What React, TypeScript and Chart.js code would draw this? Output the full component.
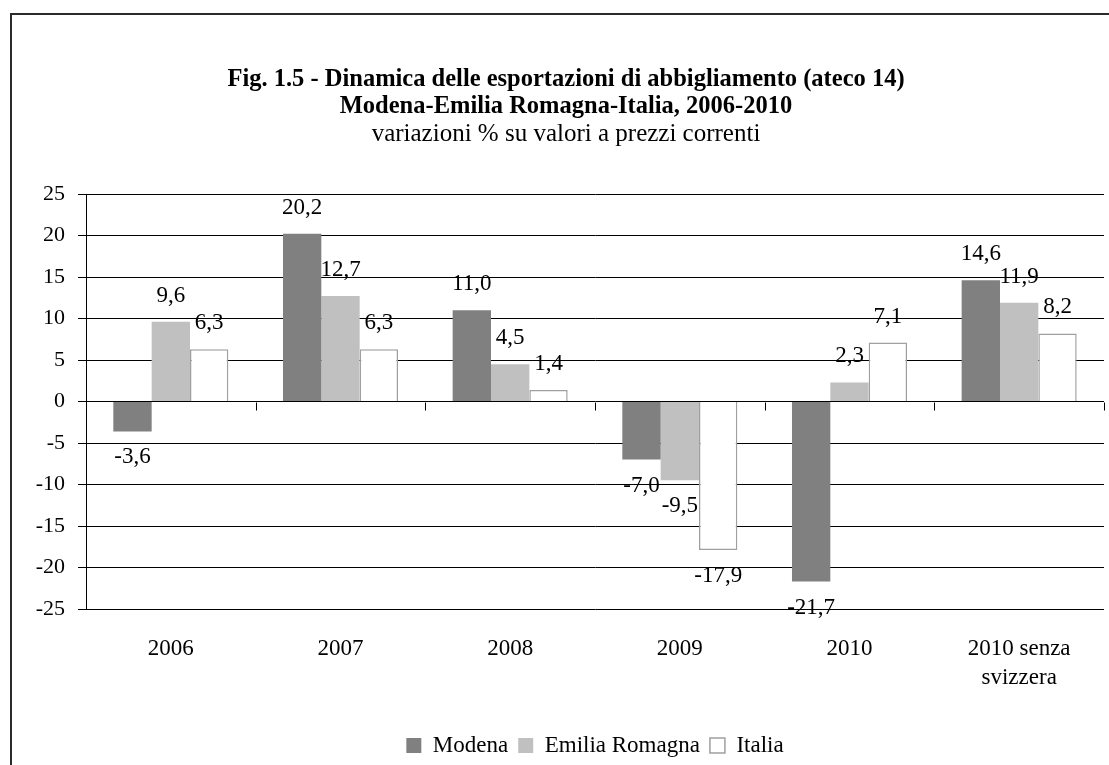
import React, { useEffect, useRef } from 'react';
import { Chart, registerables } from 'chart.js';

Chart.register(...registerables);

const categories: (string | string[])[] = ['2006', '2007', '2008', '2009', '2010', ['2010 senza', 'svizzera']];
const modena = [-3.6, 20.2, 11.0, -7.0, -21.7, 14.6];
const emiliaRomagna = [9.6, 12.7, 4.5, -9.5, 2.3, 11.9];
const italia = [6.3, 6.3, 1.4, -17.9, 7.1, 8.2];
const seriesNames = ['Modena', 'Emilia Romagna', 'Italia'];
const yMin = -25;
const yMax = 25;
const yStep = 5;
const titleLines = [
  'Fig. 1.5 - Dinamica delle esportazioni di abbigliamento (ateco 14)',
  'Modena-Emilia Romagna-Italia, 2006-2010',
];
const subtitleText = 'variazioni % su valori a prezzi correnti';

const FONT = "'Liberation Serif', 'Times New Roman', serif";

const fmt = (v: number) => v.toFixed(1).replace('.', ',');

const framePlugin = {
  id: 'frame',
  beforeDraw(chart: any) {
    const ctx = chart.ctx;
    ctx.save();
    ctx.fillStyle = '#ffffff';
    ctx.fillRect(0, 0, chart.width, chart.height);
    ctx.strokeStyle = '#2b2b2b';
    ctx.lineWidth = 2;
    ctx.beginPath();
    ctx.moveTo(11, chart.height + 5);
    ctx.lineTo(11, 14);
    ctx.lineTo(chart.width + 5, 14);
    ctx.stroke();
    ctx.restore();
  },
  afterDraw(chart: any) {
    const ctx = chart.ctx;
    const xs = chart.scales.x;
    const ys = chart.scales.y;
    const y0 = Math.round(ys.getPixelForValue(0)) + 0.5;
    const n = chart.data.labels.length;
    const step = (xs.right - xs.left) / n;
    ctx.save();
    ctx.strokeStyle = '#000';
    ctx.lineWidth = 1;
    ctx.beginPath();
    for (let i = 0; i <= n; i++) {
      const x = Math.round(xs.left + i * step) + 0.5;
      ctx.moveTo(x, y0);
      ctx.lineTo(x, y0 + 8);
    }
    ctx.stroke();
    ctx.restore();
  },
};

const valueLabelPlugin = {
  id: 'valueLabels',
  afterDatasetsDraw(chart: any) {
    const ctx = chart.ctx;
    ctx.save();
    ctx.font = `23px ${FONT}`;
    ctx.fillStyle = '#000';
    ctx.textAlign = 'center';
    ctx.textBaseline = 'middle';
    chart.data.datasets.forEach((ds: any, di: number) => {
      const meta = chart.getDatasetMeta(di);
      meta.data.forEach((el: any, i: number) => {
        const v = ds.data[i];
        const y = v >= 0 ? el.y - 26 : el.y + 26;
        ctx.fillText(fmt(v), el.x, y);
      });
    });
    ctx.restore();
  },
};

export default function App() {
  const ref = useRef<HTMLCanvasElement>(null);
  useEffect(() => {
    if (!ref.current) return;
    const chart = new Chart(ref.current, {
      type: 'bar',
      data: {
        labels: categories,
        datasets: [
          { label: seriesNames[0], data: modena, backgroundColor: '#808080', borderWidth: 0 },
          { label: seriesNames[1], data: emiliaRomagna, backgroundColor: '#c0c0c0', borderWidth: 0 },
          { label: seriesNames[2], data: italia, backgroundColor: '#ffffff', borderColor: '#a0a0a0', borderWidth: 1.5 },
        ],
      },
      options: {
        responsive: false,
        animation: false,
        layout: { padding: { left: 28, right: 5, top: 0, bottom: 1 } },
        datasets: { bar: { barPercentage: 1, categoryPercentage: 0.678 } },
        plugins: {
          tooltip: { enabled: false },
          title: {
            display: true,
            text: titleLines,
            color: '#000',
            font: { family: FONT, size: 24.5, weight: 'bold', lineHeight: 27 / 24.5 },
            padding: { top: 66.5, bottom: 0 },
          },
          subtitle: {
            display: true,
            text: subtitleText,
            color: '#000',
            font: { family: FONT, size: 25, weight: 'normal', lineHeight: 27 / 25 },
            padding: { top: 0, bottom: 46.5 },
          },
          legend: {
            position: 'bottom',
            fullSize: false,
            maxHeight: 40,
            labels: {
              color: '#000',
              font: { family: FONT, size: 23 },
              boxWidth: 15,
              boxHeight: 15,
              padding: 10,
            },
          },
        },
        scales: {
          x: {
            grid: { display: false, drawTicks: false },
            border: { display: false },
            ticks: { color: '#000', font: { family: FONT, size: 23, lineHeight: 29 / 23 }, padding: 25, maxRotation: 0 },
            afterFit(scale: any) { scale.height = 115; },
          },
          y: {
            min: yMin,
            max: yMax,
            ticks: { stepSize: yStep, color: '#000', font: { family: FONT, size: 22 }, padding: 13 },
            grid: { color: '#000', lineWidth: 1, tickLength: 8, drawTicks: true },
            border: { display: true, color: '#000', width: 1 },
            afterFit(scale: any) { scale.width = 58; },
          },
        },
      },
      plugins: [framePlugin, valueLabelPlugin],
    } as any);
    return () => chart.destroy();
  }, []);
  return (
    <div style={{ position: 'absolute', left: 0, top: 0, width: 1109, height: 765 }}>
      <canvas ref={ref} width={1109} height={765} style={{ display: 'block' }} />
    </div>
  );
}
